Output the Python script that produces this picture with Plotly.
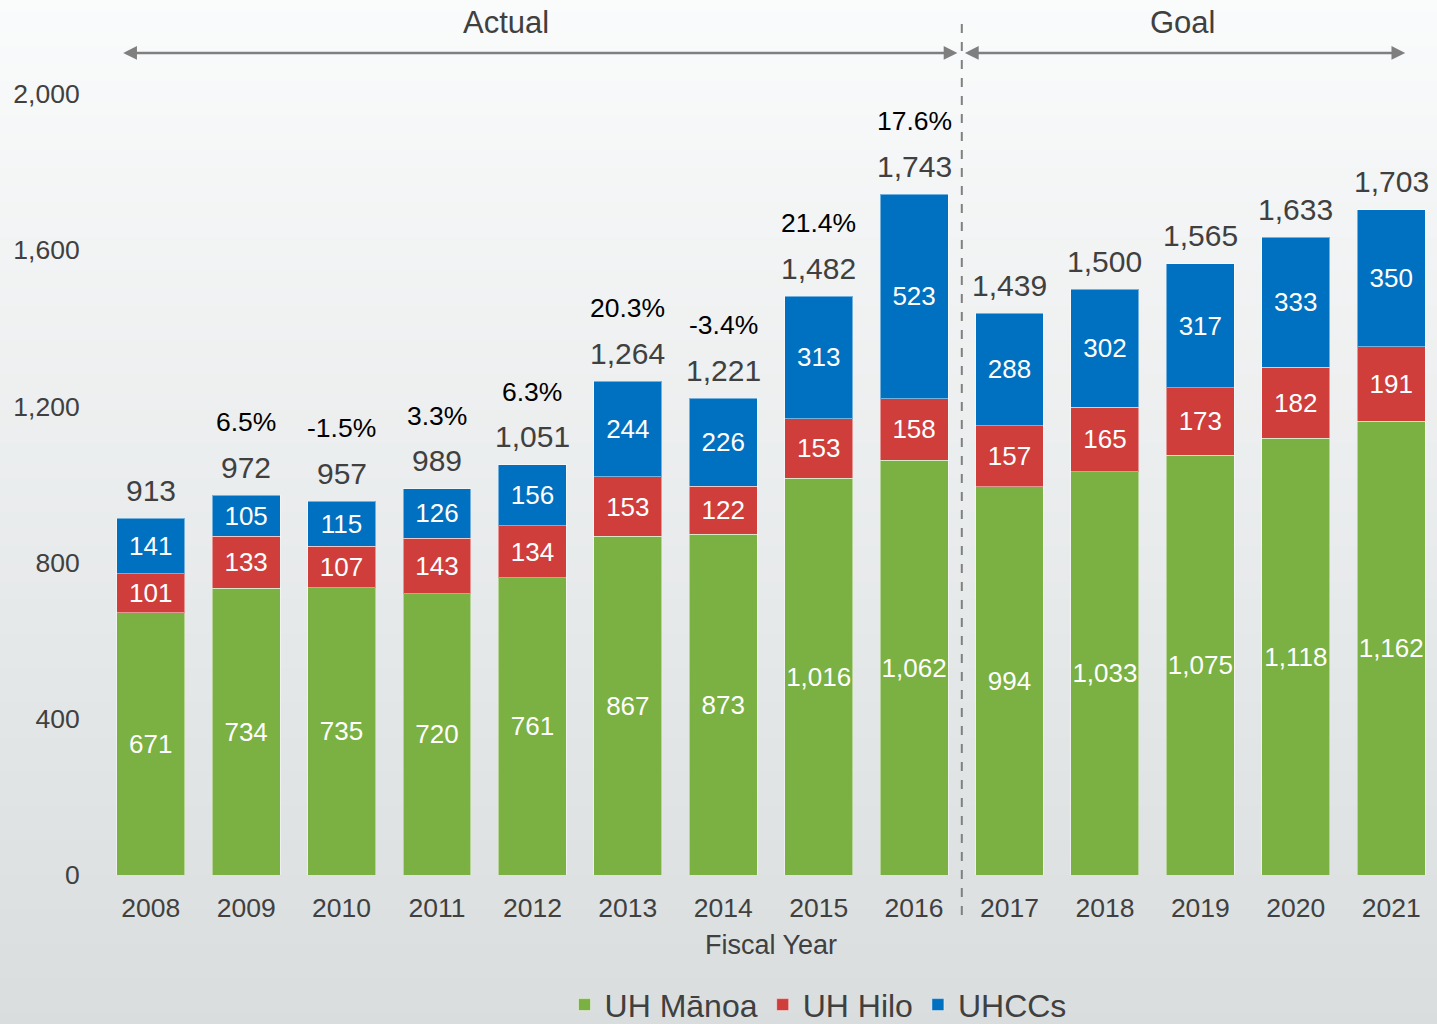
import plotly.graph_objects as go

years = ["2008", "2009", "2010", "2011", "2012", "2013", "2014",
         "2015", "2016", "2017", "2018", "2019", "2020", "2021"]
manoa = [671, 734, 735, 720, 761, 867, 873, 1016, 1062, 994, 1033, 1075, 1118, 1162]
hilo = [101, 133, 107, 143, 134, 153, 122, 153, 158, 157, 165, 173, 182, 191]
uhccs = [141, 105, 115, 126, 156, 244, 226, 313, 523, 288, 302, 317, 333, 350]
totals = [913, 972, 957, 989, 1051, 1264, 1221, 1482, 1743, 1439, 1500, 1565, 1633, 1703]
pct_change = [None, "6.5%", "-1.5%", "3.3%", "6.3%", "20.3%", "-3.4%", "21.4%", "17.6%",
              None, None, None, None, None]
y_ticks = [0, 400, 800, 1200, 1600, 2000]

FONT = "Liberation Sans, Arial, sans-serif"
GREEN = "#7AB142"
RED = "#CF3E3B"
BLUE = "#0070C0"
TXT = "#404040"

fig = go.Figure()
for name, vals, col in [("UH Mānoa", manoa, GREEN), ("UH Hilo", hilo, RED), ("UHCCs", uhccs, BLUE)]:
    fig.add_trace(go.Bar(
        x=years, y=vals, name=name,
        marker=dict(color=col, line=dict(color="rgba(255,255,255,0.45)", width=1)),
        text=[f"{v:,}" for v in vals], textposition="inside", insidetextanchor="middle",
        constraintext="none", textangle=0,
        textfont=dict(color="white", size=26, family=FONT),
        hoverinfo="skip",
    ))

annotations = []
for i, t in enumerate(totals):
    annotations.append(dict(x=i, y=t, xref="x", yref="y", text=f"{t:,}", showarrow=False,
                            yanchor="middle", yshift=28,
                            font=dict(size=30, color=TXT, family=FONT)))
    if pct_change[i]:
        annotations.append(dict(x=i, y=t, xref="x", yref="y", text=pct_change[i], showarrow=False,
                                yanchor="middle", yshift=73,
                                font=dict(size=26.5, color="black", family=FONT)))

# Actual / Goal arrows
arrow_y = 1.0525
for x0, x1 in [(-0.304, 8.454), (8.517, 13.147)]:
    annotations.append(dict(x=x1, y=arrow_y, xref="x", yref="paper", ax=x0, ay=0,
                            axref="x", ayref="pixel", text="", showarrow=True,
                            arrowhead=2, arrowside="end+start", arrowsize=1.1,
                            arrowwidth=2.5, arrowcolor="#7F7F7F"))
annotations.append(dict(x=3.72, y=1.092, xref="x", yref="paper", text="Actual", showarrow=False,
                        yanchor="middle", font=dict(size=31, color=TXT, family=FONT)))
annotations.append(dict(x=10.81, y=1.092, xref="x", yref="paper", text="Goal", showarrow=False,
                        yanchor="middle", font=dict(size=31, color=TXT, family=FONT)))
annotations.append(dict(x=6.5, y=-0.0896, xref="x", yref="paper", text="Fiscal Year", showarrow=False,
                        yanchor="middle", font=dict(size=27, color=TXT, family=FONT)))

# gradient background bands
shapes = []
n = 60
top = (250, 251, 251)
bot = (217, 221, 222)
y_lo, y_hi = -0.2, 1.125
for k in range(n):
    f = k / (n - 1)
    c = tuple(round(top[j] + (bot[j] - top[j]) * f) for j in range(3))
    ya = y_hi - (y_hi - y_lo) * k / n
    yb = y_hi - (y_hi - y_lo) * (k + 1) / n
    shapes.append(dict(type="rect", xref="paper", yref="paper", x0=-0.1, x1=1.1,
                       y0=yb - 0.002, y1=ya + 0.002, fillcolor=f"rgb{c}",
                       line=dict(width=0), layer="below"))
shapes.append(dict(type="line", xref="x", yref="paper", x0=8.5, x1=8.5, y0=-0.0512, y1=1.101,
                   line=dict(color="#808080", width=2, dash="dash")))

fig.update_layout(
    width=1437, height=1024,
    margin=dict(l=103, r=0, t=94, b=149, autoexpand=False),
    barmode="stack", bargap=0.288,
    paper_bgcolor="#dadfdf", plot_bgcolor="rgba(0,0,0,0)",
    font=dict(family=FONT, color=TXT),
    showlegend=True,
    legend=dict(orientation="h", x=0.536, xanchor="center", y=-0.131, yanchor="top",
                traceorder="normal", font=dict(size=32, color=TXT, family=FONT),
                bgcolor="rgba(0,0,0,0)", itemclick=False),
    annotations=annotations, shapes=shapes,
)
fig.update_xaxes(range=[-0.5, 13.48], showgrid=False, zeroline=False, showline=False,
                 tickfont=dict(size=26.5, color=TXT, family=FONT), ticks="outside", ticklen=9,
                 tickcolor="rgba(0,0,0,0)")
fig.update_yaxes(range=[0, 2000], tickvals=y_ticks, tickformat=",", showgrid=False,
                 zeroline=False, showline=False,
                 tickfont=dict(size=26.5, color=TXT, family=FONT), ticks="outside", ticklen=17,
                 tickcolor="rgba(0,0,0,0)")

fig.write_html("out.html", config={"displayModeBar": False},
               post_script="document.body.style.margin='0';")
